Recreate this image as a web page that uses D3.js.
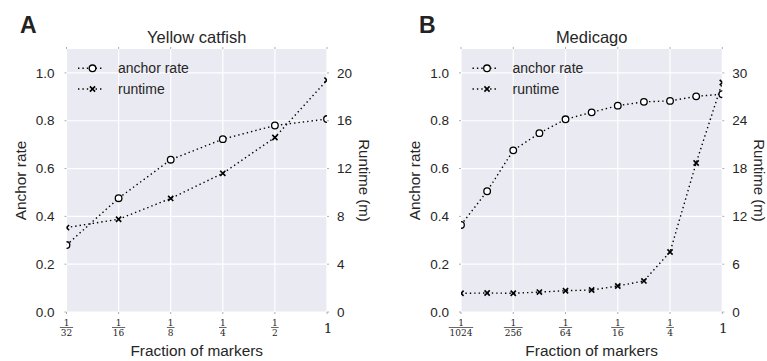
<!DOCTYPE html>
<html>
<head>
<meta charset="utf-8">
<script src="https://cdn.jsdelivr.net/npm/d3@7"></script>
<style>
  body { margin: 0; background: #fff; }
  svg { display: block; font-family: "Liberation Sans", Arial, sans-serif; }
</style>
</head>
<body>
<div id="chart"></div>
<script>
// ===== DATA =====
const catfishFractions = [1/32, 1/16, 1/8, 1/4, 1/2, 1];
const catfishAnchor = [0.28, 0.476, 0.637, 0.723, 0.78, 0.807];
const catfishRuntime = [7.06, 7.76, 9.5, 11.6, 14.6, 19.4];
const catfishTicks = ["1/32", "1/16", "1/8", "1/4", "1/2", "1"];
const catfishRightTicks = [0, 4, 8, 12, 16, 20];

const medicagoFractions = [1/1024, 1/512, 1/256, 1/128, 1/64, 1/32, 1/16, 1/8, 1/4, 1/2, 1];
const medicagoAnchor = [0.364, 0.505, 0.676, 0.748, 0.806, 0.835, 0.863, 0.879, 0.883, 0.902, 0.911];
const medicagoRuntime = [2.35, 2.38, 2.35, 2.5, 2.67, 2.76, 3.26, 3.9, 7.53, 18.7, 28.8];
const medicagoTicks = ["1/1024", "1/256", "1/64", "1/16", "1/4", "1"];
const medicagoRightTicks = [0, 6, 12, 18, 24, 30];

const leftTicks = [0, 0.2, 0.4, 0.6, 0.8, 1.0];
const legendLabels = ["anchor rate", "runtime"];

const W = 767, H = 361;
const TEXT = "#262626";
const BG = "#EAEAF2";

const svg = d3.select("#chart").append("svg")
  .attr("width", W)
  .attr("height", H);

const defs = svg.append("defs");

function drawPanel(cfg) {
  const { id, letter, title, left, right, top, bottom, fractions, anchor, runtime,
          ticks, rightMax, rightTicks } = cfg;

  const x = d3.scaleLog().base(2)
    .domain([fractions[0], 1])
    .range([left, right]);
  const y = d3.scaleLinear().domain([0, 1.1]).range([bottom, top]);
  const y2 = d3.scaleLinear().domain([0, rightMax]).range([bottom, top]);

  const tickVals = ticks.map(t => {
    const p = t.split("/");
    return p.length === 2 ? +p[0] / +p[1] : +p[0];
  });

  // clip
  defs.append("clipPath").attr("id", "clip-" + id)
    .append("rect")
    .attr("x", left).attr("y", top)
    .attr("width", right - left).attr("height", bottom - top);

  const g = svg.append("g");

  // background
  g.append("rect")
    .attr("x", left).attr("y", top)
    .attr("width", right - left).attr("height", bottom - top)
    .attr("fill", BG);

  // grid
  g.selectAll(".hgrid").data(leftTicks).join("line")
    .attr("x1", left).attr("x2", right)
    .attr("y1", d => y(d)).attr("y2", d => y(d))
    .attr("stroke", "#fff").attr("stroke-width", 1.2);
  g.selectAll(".vgrid").data(tickVals).join("line")
    .attr("x1", d => x(d)).attr("x2", d => x(d))
    .attr("y1", top).attr("y2", bottom)
    .attr("stroke", "#fff").attr("stroke-width", 1.2);

  // small tick marks (outside)
  const tk = g.append("g").attr("stroke", "#999").attr("stroke-width", 0.8);
  leftTicks.forEach(d => {
    tk.append("line").attr("x1", left - 2).attr("x2", left).attr("y1", y(d)).attr("y2", y(d));
  });
  rightTicks.forEach(d => {
    tk.append("line").attr("x1", right).attr("x2", right + 2).attr("y1", y2(d)).attr("y2", y2(d));
  });
  tickVals.forEach(d => {
    tk.append("line").attr("x1", x(d)).attr("x2", x(d)).attr("y1", top - 2).attr("y2", top);
    tk.append("line").attr("x1", x(d)).attr("x2", x(d)).attr("y1", bottom).attr("y2", bottom + 2);
  });

  // left tick labels
  g.selectAll(".ly").data(leftTicks).join("text")
    .attr("x", left - 12).attr("y", d => y(d))
    .attr("dy", "0.35em")
    .attr("text-anchor", "end")
    .attr("font-size", 13.5).attr("fill", TEXT)
    .text(d => d3.format(".1f")(d));

  // right tick labels
  g.selectAll(".ry").data(rightTicks).join("text")
    .attr("x", right + 10).attr("y", d => y2(d))
    .attr("dy", "0.35em")
    .attr("text-anchor", "start")
    .attr("font-size", 13.5).attr("fill", TEXT)
    .text(d => d);

  // fraction x tick labels
  ticks.forEach((t, i) => {
    const cx = x(tickVals[i]);
    const p = t.split("/");
    const tg = g.append("g")
      .attr("font-family", "'DejaVu Serif', 'Liberation Serif', serif")
      .attr("fill", TEXT)
      .attr("text-anchor", "middle");
    if (p.length === 2) {
      tg.append("text").attr("x", cx).attr("y", bottom + 13.5)
        .attr("font-size", 9).text(p[0]);
      const w = p[1].length * 5.6 + 2;
      tg.append("line")
        .attr("x1", cx - w / 2).attr("x2", cx + w / 2)
        .attr("y1", bottom + 15.5).attr("y2", bottom + 15.5)
        .attr("stroke", TEXT).attr("stroke-width", 0.7);
      tg.append("text").attr("x", cx).attr("y", bottom + 24)
        .attr("font-size", 9).text(p[1]);
    } else {
      tg.append("text").attr("x", cx + 1).attr("y", bottom + 20.5)
        .attr("font-size", 13.5).text(p[0]);
    }
  });

  // axis labels
  g.append("text")
    .attr("x", (left + right) / 2).attr("y", bottom + 44)
    .attr("text-anchor", "middle")
    .attr("font-size", 15.4).attr("fill", TEXT)
    .text("Fraction of markers");
  g.append("text")
    .attr("transform", `translate(${left - 41},${(top + bottom) / 2}) rotate(-90)`)
    .attr("text-anchor", "middle")
    .attr("font-size", 15.4).attr("fill", TEXT)
    .text("Anchor rate");
  g.append("text")
    .attr("transform", `translate(${right + 31.5},${(top + bottom) / 2}) rotate(90)`)
    .attr("text-anchor", "middle")
    .attr("font-size", 15).attr("fill", TEXT)
    .text("Runtime (m)");

  // title and panel letter
  g.append("text")
    .attr("x", (left + right) / 2).attr("y", top - 6)
    .attr("text-anchor", "middle")
    .attr("font-size", 16.5).attr("fill", TEXT)
    .text(title);
  g.append("text")
    .attr("x", cfg.letterX).attr("y", 33)
    .attr("font-size", 23).attr("font-weight", "bold").attr("fill", "#222")
    .text(letter);

  // series
  const plot = g.append("g").attr("clip-path", `url(#clip-${id})`);
  const anchorPts = fractions.map((f, i) => [x(f), y(anchor[i])]);
  const runtimePts = fractions.map((f, i) => [x(f), y2(runtime[i])]);
  const line = d3.line();

  [anchorPts, runtimePts].forEach(pts => {
    plot.append("path")
      .attr("d", line(pts))
      .attr("fill", "none")
      .attr("stroke", "#000")
      .attr("stroke-width", 1.4)
      .attr("stroke-dasharray", "1.4,3");
  });

  plot.selectAll(".circ").data(anchorPts).join("circle")
    .attr("cx", d => d[0]).attr("cy", d => d[1]).attr("r", 3.3)
    .attr("fill", "#fff").attr("stroke", "#000").attr("stroke-width", 1.3);

  const xs = 2.6;
  plot.selectAll(".cross").data(runtimePts).join("path")
    .attr("d", d => `M${d[0] - xs},${d[1] - xs}L${d[0] + xs},${d[1] + xs}M${d[0] - xs},${d[1] + xs}L${d[0] + xs},${d[1] - xs}`)
    .attr("stroke", "#000").attr("stroke-width", 1.6).attr("fill", "none");

  // legend
  const lg = g.append("g");
  legendLabels.forEach((lab, i) => {
    const ly = cfg.legendY + i * 20.7;
    const lx0 = cfg.legendX, lx1 = lx0 + 26, mx = lx0 + 14.5;
    lg.append("line")
      .attr("x1", lx0).attr("x2", lx1).attr("y1", ly).attr("y2", ly)
      .attr("stroke", "#000").attr("stroke-width", 1.4)
      .attr("stroke-dasharray", "1.4,3");
    if (i === 0) {
      lg.append("circle").attr("cx", mx).attr("cy", ly).attr("r", 3.3)
        .attr("fill", "#fff").attr("stroke", "#000").attr("stroke-width", 1.3);
    } else {
      lg.append("path")
        .attr("d", `M${mx - xs},${ly - xs}L${mx + xs},${ly + xs}M${mx - xs},${ly + xs}L${mx + xs},${ly - xs}`)
        .attr("stroke", "#000").attr("stroke-width", 1.6);
    }
    lg.append("text")
      .attr("x", lx0 + 40).attr("y", ly)
      .attr("dy", "0.35em")
      .attr("font-size", 14).attr("fill", TEXT)
      .text(lab);
  });
}

drawPanel({
  id: "a", letter: "A", letterX: 20, title: "Yellow catfish",
  left: 66.5, right: 327, top: 49, bottom: 312,
  fractions: catfishFractions, anchor: catfishAnchor, runtime: catfishRuntime,
  ticks: catfishTicks, rightMax: 22, rightTicks: catfishRightTicks,
  legendX: 78, legendY: 68.3
});

drawPanel({
  id: "b", letter: "B", letterX: 419, title: "Medicago",
  left: 461, right: 722.3, top: 49, bottom: 312,
  fractions: medicagoFractions, anchor: medicagoAnchor, runtime: medicagoRuntime,
  ticks: medicagoTicks, rightMax: 33, rightTicks: medicagoRightTicks,
  legendX: 472.5, legendY: 68.3
});
</script>
</body>
</html>
